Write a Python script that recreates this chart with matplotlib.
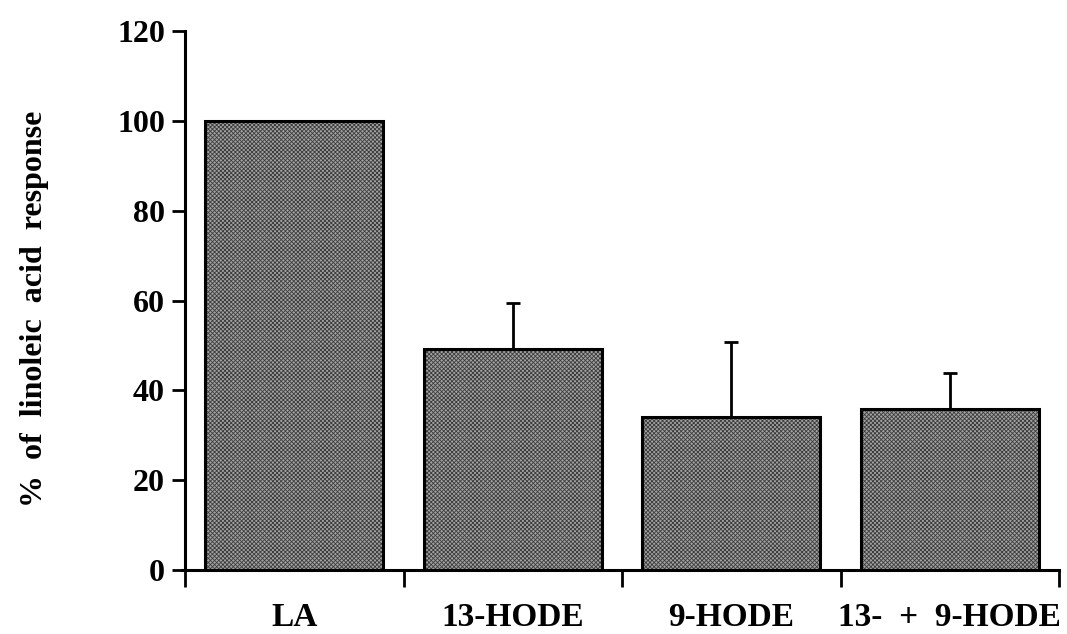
import numpy as np
import matplotlib
matplotlib.use('Agg')
from matplotlib import pyplot as plt

# mean response (% of linoleic acid) and upper error per treatment
treatments = ['LA', '13-HODE', '9-HODE', '13-  +  9-HODE']
response = [100.0, 49.2, 34.0, 35.9]
upper_err = [0.0, 10.3, 16.8, 8.0]
yticks = [0, 20, 40, 60, 80, 100, 120]

plt.rcParams['font.family'] = ['Liberation Serif', 'DejaVu Serif']
plt.rcParams['font.weight'] = 'bold'
plt.rcParams['hatch.linewidth'] = 0.6

fig = plt.figure(figsize=(10.67, 6.34), dpi=100)
ax = fig.add_axes([0.1734, 0.1009, 0.8191, 0.8502])

x = np.arange(len(treatments))
# stippled grey fill: fine dark cross-hatch over a light grey
ax.bar(x, response, width=0.815, color='#a2a2a2', edgecolor='#3c3c3c',
       hatch='xxxxxxxx', linewidth=0, zorder=2)
ax.bar(x, response, width=0.815, fill=False, edgecolor='black',
       linewidth=2.2, zorder=3)

# error bars drawn upward only
has_err = [i for i, e in enumerate(upper_err) if e > 0]
ax.errorbar(x[has_err], [response[i] for i in has_err],
            yerr=[[0] * len(has_err), [upper_err[i] for i in has_err]],
            fmt='none', ecolor='black', elinewidth=2.0, capsize=4.8,
            capthick=2.0, zorder=1)

ax.set_xlim(-0.5, 3.5)
ax.set_ylim(0, 120)
ax.set_yticks(yticks)
ax.set_yticklabels([str(v) for v in yticks], fontsize=23, fontweight='bold')

# category labels under the bars, tick marks between categories
ax.set_xticks(x)
ax.set_xticklabels(treatments, fontsize=24, fontweight='bold')
ax.tick_params(axis='x', which='major', length=0, pad=23)
ax.set_xticks(np.arange(-0.5, 4.0, 1.0), minor=True)
ax.tick_params(axis='x', which='minor', direction='out', length=12, width=2)
ax.tick_params(axis='y', direction='out', length=9.5, width=2, pad=5)

for side in ['top', 'right']:
    ax.spines[side].set_visible(False)
for side in ['left', 'bottom']:
    ax.spines[side].set_linewidth(2.2)
ax.spines['bottom'].set_bounds(-0.516, 3.5)

ax.set_ylabel('%  of  linoleic  acid  response', fontsize=23,
              fontweight='bold', va='center')
ax.yaxis.set_label_coords(-0.172, 0.484)

fig.savefig('out.png', dpi=100)
